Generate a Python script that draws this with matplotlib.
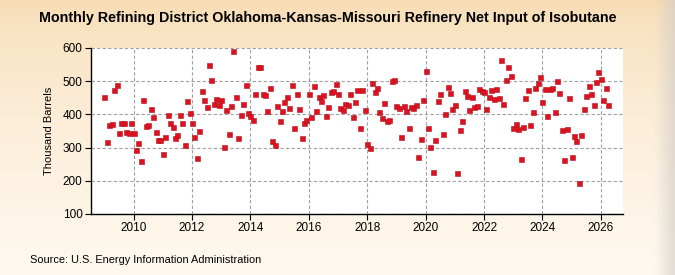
import numpy as np
import matplotlib
matplotlib.use("Agg")
import matplotlib.pyplot as plt

start_year = 2009
values = [
    # 2009
    453, 318, 369, 372, 475, 490, 345, 373, 375, 348, 345, 375,
    # 2010
    345, 292, 315, 261, 444, 366, 369, 417, 393, 348, 324, 324,
    # 2011
    282, 333, 399, 375, 363, 330, 339, 399, 375, 309, 441, 405,
    # 2012
    375, 333, 270, 351, 471, 444, 423, 550, 505, 432, 447, 429,
    # 2013
    442, 303, 412, 340, 424, 592, 451, 330, 397, 432, 490, 403,
    # 2014
    394, 382, 460, 544, 544, 460, 457, 409, 481, 319, 307, 424,
    # 2015
    379, 409, 436, 451, 418, 489, 360, 460, 415, 330, 373, 382,
    # 2016
    460, 391, 487, 409, 451, 441, 457, 394, 421, 466, 469, 493,
    # 2017
    460, 418, 412, 430, 427, 460, 391, 436, 472, 360, 475, 412,
    # 2018
    310, 300, 496, 466, 481, 406, 388, 433, 379, 382, 502, 505,
    # 2019
    424, 418, 333, 424, 409, 358, 421, 418, 427, 271, 325, 442,
    # 2020
    532, 358, 301, 228, 322, 439, 462, 340, 400, 484, 463, 415,
    # 2021
    427, 222, 352, 379, 469, 454, 412, 451, 421, 424, 478, 470,
    # 2022
    468, 415, 451, 472, 445, 476, 448, 565, 430, 505, 544, 517,
    # 2023
    358, 370, 355, 265, 361, 448, 475, 367, 406, 481, 496, 514,
    # 2024
    436, 478, 394, 478, 481, 406, 502, 463, 352, 262, 355, 448,
    # 2025
    273, 334, 319, 192, 337, 415, 454, 487, 460, 427, 499, 529,
    # 2026
    508, 442, 481, 427,
]
year_ticks = [2010, 2012, 2014, 2016, 2018, 2020, 2022, 2024, 2026]
y_ticks = [100, 200, 300, 400, 500, 600]

title = "Monthly Refining District Oklahoma-Kansas-Missouri Refinery Net Input of Isobutane"
ylabel = "Thousand Barrels"
source = "Source: U.S. Energy Information Administration"

plt.rcParams['font.family'] = ['Liberation Sans', 'DejaVu Sans']

W, H = 675, 275
fig = plt.figure(figsize=(W / 100, H / 100), dpi=100)

# background gradient
bg = fig.add_axes([0, 0, 1, 1], zorder=-10)
ny, nx = 100, 200
t = np.linspace(0, 1, ny)[:, None]
top = np.array([247, 219, 178]) / 255
bot = np.array([255, 249, 240]) / 255
grad = top[None, None, :] * (1 - t[..., None] ** 0.6) + bot[None, None, :] * (t[..., None] ** 0.6)
grad = np.repeat(grad, nx, axis=1)
# right shadow strip
xs = np.linspace(0, 1, nx)
shade = np.clip((xs - 0.972) / 0.028, 0, 1)
grey = np.array([0.82, 0.80, 0.78])
grad = grad * (1 - shade[None, :, None] * 0.6) + grey * shade[None, :, None] * 0.6
bg.imshow(grad, aspect='auto', extent=[0, 1, 0, 1], origin='upper')
bg.set_xlim(0, 1)
bg.set_ylim(0, 1)
bg.axis('off')

left, right, top_px, bottom_px = 91, 623, 48, 214
ax = fig.add_axes([left / W, 1 - bottom_px / H, (right - left) / W, (bottom_px - top_px) / H])
ax.set_facecolor('white')

x = [start_year + i / 12 for i in range(len(values))]
ax.plot(x, values, linestyle='none', marker='s', markersize=3.6,
        markerfacecolor='#DC1220', markeredgecolor='#B5101A', markeredgewidth=0.4, zorder=3)

ax.set_xlim(2008.54, 2026.76)
ax.set_ylim(100, 600)
ax.set_xticks(year_ticks)
ax.set_xticklabels([str(y) for y in year_ticks])
ax.set_yticks(y_ticks)
ax.grid(True, color='#A0A0A0', linestyle=(0, (3, 2)), linewidth=0.8)
ax.set_axisbelow(True)
for s in ['top', 'right']:
    ax.spines[s].set_visible(False)
for s in ['left', 'bottom']:
    ax.spines[s].set_color('black')
    ax.spines[s].set_linewidth(1.0)
ax.tick_params(axis='both', labelsize=8.5, length=4, width=0.8, colors='black', pad=2)
ax.set_ylabel(ylabel, fontsize=8, labelpad=6)

fig.text(0.485, 1 - 18 / H, title, ha='center', va='center', fontsize=10.3, fontweight='bold')
fig.text(30 / W, 1 - 260 / H, source, ha='left', va='center', fontsize=7.9)

fig.savefig('out.png', dpi=100)
